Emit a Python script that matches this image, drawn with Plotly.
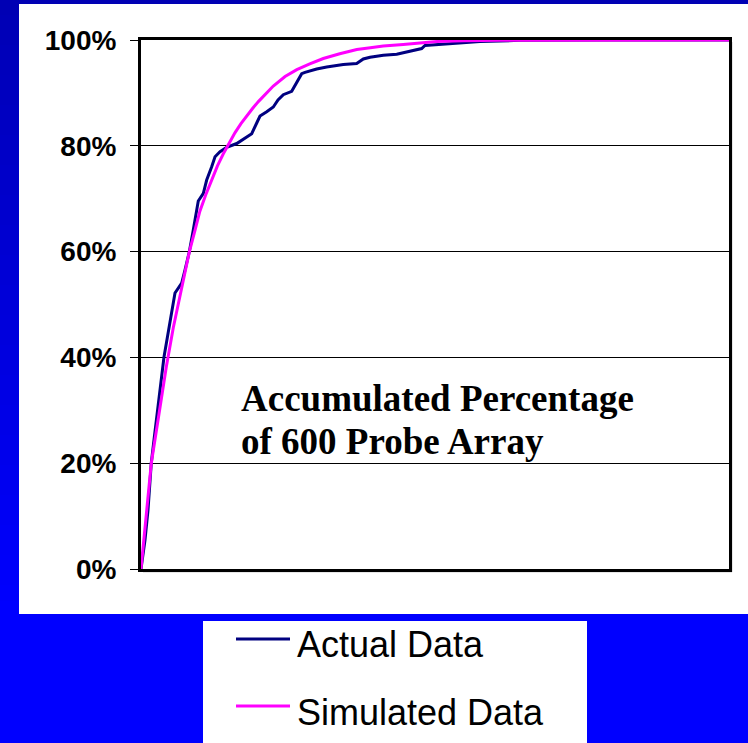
import plotly.graph_objects as go

# Cumulative share of probes (percent) against the hidden horizontal measure
actual_x = [0, 0.68, 1.19, 1.75, 2.21, 2.72, 3.23, 3.62, 3.91, 5.78,
            6.34, 6.92, 7.48, 8.21, 8.89, 9.47, 9.74, 10.6, 11.17, 12.02, 12.59,
            13.44, 14.57, 16.28, 17.69, 18.83, 19.68, 20.24, 21.38, 22.5, 23.3,
            24.2, 25.63, 26.48, 27.33, 27.89, 29.88, 31.58, 34.4, 36.68, 37.81,
            38.95, 41.21, 43.49, 44.61, 46.04, 47.74, 48.3, 51.99, 54.81, 57.65,
            61.05, 64.46, 78.0, 100]
actual_y = [0, 5.48, 11.15, 20.04, 24.39, 29.11, 33.84, 37.62, 40.08,
            52.17, 53.12, 54.06, 56.52, 59.92, 64.08, 67.86, 69.57, 71.02, 73.53,
            76.05, 77.94, 78.88, 79.72, 80.43, 81.42, 82.29, 84.31, 85.63, 86.45,
            87.33, 88.66, 89.66, 90.3, 92.06, 93.63, 93.89, 94.52, 94.9, 95.37,
            95.56, 96.41, 96.75, 97.13, 97.3, 97.6, 97.92, 98.39, 98.96, 99.28,
            99.49, 99.72, 99.81, 99.94, 100, 100]

sim_x = [0, 1.75, 3.06, 4.3, 5.49, 6.92, 8.21, 9.18, 10.0, 11.0, 12.0, 13.0,
         14.0, 15.0, 16.0, 17.0, 18.0, 19.0, 20.0, 21.0, 22.5, 24.5, 26.5, 28.7,
         31.0, 33.8, 36.7, 39.0, 41.2, 44.6, 47.5, 50.3, 54.8, 61.0, 100]
sim_y = [0, 20.0, 29.3, 38.2, 45.6, 53.3, 59.9, 64.0, 67.6, 70.7, 73.6, 76.2,
         78.5, 80.6, 82.5, 84.2, 85.7, 87.1, 88.4, 89.6, 91.3, 93.1, 94.4, 95.5,
         96.5, 97.4, 98.2, 98.55, 98.85, 99.15, 99.45, 99.7, 99.85, 99.95, 100]

series_names = ["Actual Data", "Simulated Data"]
series_colors = ["#000080", "#FF00FF"]

y_tick_vals = [0, 20, 40, 60, 80, 100]
y_tick_text = ["0%", "20%", "40%", "60%", "80%", "100%"]

note_lines = ["Accumulated Percentage", "of 600 Probe Array"]

# Page geometry (pixels)
W, H = 748, 743
L, R, T, B = 141, 19, 40, 174
PW, PH = W - L - R, H - T - B


def fx(p):
    return (p - L) / PW


def fy(p):
    return (H - B - p) / PH


fig = go.Figure()
for xs, ys, name, color in zip([actual_x, sim_x], [actual_y, sim_y],
                               series_names, series_colors):
    fig.add_trace(go.Scatter(x=xs, y=ys, mode="lines", name=name,
                             line=dict(color=color, width=3),
                             showlegend=False, hoverinfo="skip"))

shapes = []
# Slide background: vertical blue gradient
n_bands = 40
for i in range(n_bands):
    y0 = i * 15
    y1 = y0 + 16
    b = int(round(180 + (255 - 180) * min(1.0, y0 / 600)))
    shapes.append(dict(type="rect", xref="paper", yref="paper",
                       x0=fx(-2), x1=fx(W + 2), y0=fy(y1), y1=fy(y0),
                       fillcolor=f"rgb(0,0,{b})", line=dict(width=0),
                       layer="below"))
# White chart panel
shapes.append(dict(type="rect", xref="paper", yref="paper",
                   x0=fx(19), x1=fx(W + 2), y0=fy(614), y1=fy(4),
                   fillcolor="white", line=dict(width=0), layer="below"))
# Soft grey shadow of the plot frame
shapes.append(dict(type="line", xref="paper", yref="paper",
                   x0=fx(731.5), x1=fx(731.5), y0=fy(42), y1=fy(572),
                   line=dict(color="#9a9a9a", width=1.5), layer="below"))
shapes.append(dict(type="line", xref="paper", yref="paper",
                   x0=fx(143), x1=fx(732), y0=fy(571.5), y1=fy(571.5),
                   line=dict(color="#9a9a9a", width=1.5), layer="below"))
# Legend box
shapes.append(dict(type="rect", xref="paper", yref="paper",
                   x0=fx(203), x1=fx(587), y0=fy(H + 2), y1=fy(621),
                   fillcolor="white", line=dict(width=0), layer="below"))

annotations = []
legend_rows = [(639, 644), (706, 712)]
for (ly, ty), name, color in zip(legend_rows, series_names, series_colors):
    shapes.append(dict(type="line", xref="paper", yref="paper",
                       x0=fx(236), x1=fx(290), y0=fy(ly), y1=fy(ly),
                       line=dict(color=color, width=3)))
    annotations.append(dict(text=name, xref="paper", yref="paper",
                            x=fx(295), y=fy(ty), xanchor="left",
                            yanchor="middle", showarrow=False,
                            font=dict(family="Liberation Sans, Arial",
                                      size=36, color="black")))

for text, cy in zip(note_lines, [398.5, 441.5]):
    annotations.append(dict(text=f"<b>{text}</b>", xref="paper", yref="paper",
                            x=fx(239), y=fy(cy), xanchor="left",
                            yanchor="middle", showarrow=False,
                            font=dict(family="Liberation Serif, Times New Roman",
                                      size=37, color="black")))

fig.update_layout(
    width=W, height=H,
    margin=dict(l=L, r=R, t=T, b=B, pad=0),
    paper_bgcolor="rgb(0,0,255)",
    plot_bgcolor="white",
    shapes=shapes,
    annotations=annotations,
    xaxis=dict(range=[0, 100], showticklabels=False, ticks="",
               showgrid=False, zeroline=False, showline=True,
               linecolor="black", linewidth=3, mirror=True,
               layer="below traces", fixedrange=True),
    yaxis=dict(range=[0, 100], tickvals=y_tick_vals, ticktext=y_tick_text,
               ticks="outside", ticklen=8, tickwidth=1, tickcolor="black",
               ticklabelstandoff=8,
               tickfont=dict(family="Liberation Sans, Arial", size=28,
                             color="black", weight="bold"),
               showgrid=True, gridcolor="black", gridwidth=1,
               zeroline=False, showline=True, linecolor="black",
               linewidth=3, mirror=True, layer="below traces",
               fixedrange=True),
    showlegend=False,
)

fig.write_html("out.html", config={"displayModeBar": False})
